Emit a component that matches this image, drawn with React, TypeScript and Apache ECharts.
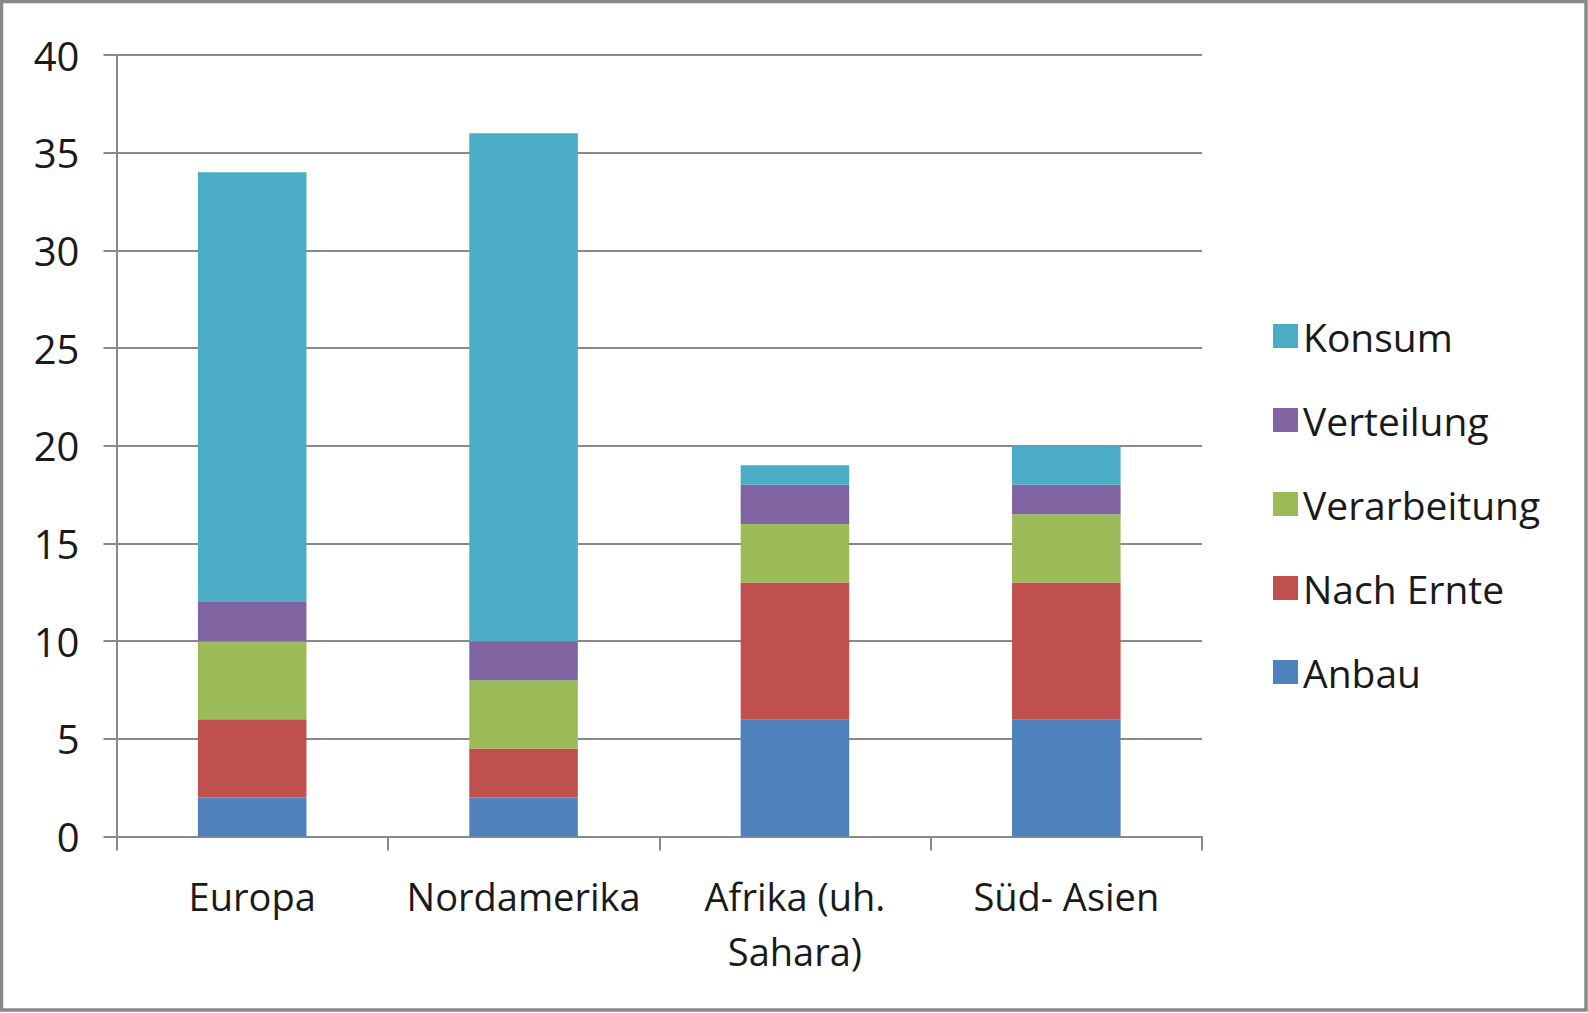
import React, { useEffect, useRef } from "react";
import * as echarts from "echarts";

const categories = ["Europa", "Nordamerika", "Afrika (uh.\nSahara)", "Süd- Asien"];
const anbau = [2, 2, 6, 6];
const nachErnte = [4, 2.5, 7, 7];
const verarbeitung = [4, 3.5, 3, 3.5];
const verteilung = [2, 2, 2, 1.5];
const konsum = [22, 26, 1, 2];
const seriesNames = ["Anbau", "Nach Ernte", "Verarbeitung", "Verteilung", "Konsum"];
const seriesColors = ["#4F81BD", "#C0504D", "#9BBB59", "#8064A2", "#4BACC6"];
const legendOrder = ["Konsum", "Verteilung", "Verarbeitung", "Nach Ernte", "Anbau"];

const FONT = "'Open Sans', sans-serif";
const GRAY = "#898989";

export default function App() {
  const ref = useRef<HTMLDivElement>(null);
  useEffect(() => {
    if (!ref.current) return;
    const chart = echarts.init(ref.current, null, { renderer: "svg" });
    const values = [anbau, nachErnte, verarbeitung, verteilung, konsum];
    chart.setOption({
      animation: false,
      backgroundColor: "#ffffff",
      textStyle: { fontFamily: FONT },
      graphic: [
        {
          type: "rect",
          shape: { x: 1.5, y: 1.5, width: 1584.5, height: 1008.5 },
          style: { fill: "none", stroke: GRAY, lineWidth: 3.5 },
          silent: true,
        },
      ],
      grid: { left: 116.5, right: 386, top: 55, bottom: 176.5, containLabel: false },
      legend: {
        data: legendOrder,
        orient: "vertical",
        left: 1268,
        top: 311,
        itemWidth: 25,
        itemHeight: 24,
        itemGap: 44,
        icon: "rect",
        textStyle: { fontFamily: FONT, fontSize: 39, color: "#1a1a1a", lineHeight: 40 },
      },
      xAxis: {
        type: "category",
        data: categories,
        axisLine: { lineStyle: { color: GRAY, width: 2 } },
        axisTick: { show: true, length: 14, lineStyle: { color: GRAY, width: 2 } },
        axisLabel: {
          fontFamily: FONT,
          fontSize: 38,
          color: "#1a1a1a",
          lineHeight: 55,
          margin: 32,
          interval: 0,
        },
      },
      yAxis: {
        type: "value",
        min: 0,
        max: 40,
        interval: 5,
        axisLine: { show: true, lineStyle: { color: GRAY, width: 2 } },
        axisTick: { show: true, length: 13, lineStyle: { color: GRAY, width: 2 } },
        splitLine: { show: true, lineStyle: { color: GRAY, width: 2 } },
        axisLabel: {
          fontFamily: FONT,
          fontSize: 40,
          color: "#1a1a1a",
          margin: 37,
          lineHeight: 40,
          padding: [0, 0, 8, 0],
        },
      },
      series: seriesNames.map((name, i) => ({
        name,
        type: "bar",
        stack: "total",
        barWidth: "40%",
        data: values[i],
        itemStyle: { color: seriesColors[i] },
      })),
    });
    return () => chart.dispose();
  }, []);
  return (
    <div
      ref={ref}
      style={{ position: "absolute", left: 0, top: 0, width: 1588, height: 1013 }}
    />
  );
}
